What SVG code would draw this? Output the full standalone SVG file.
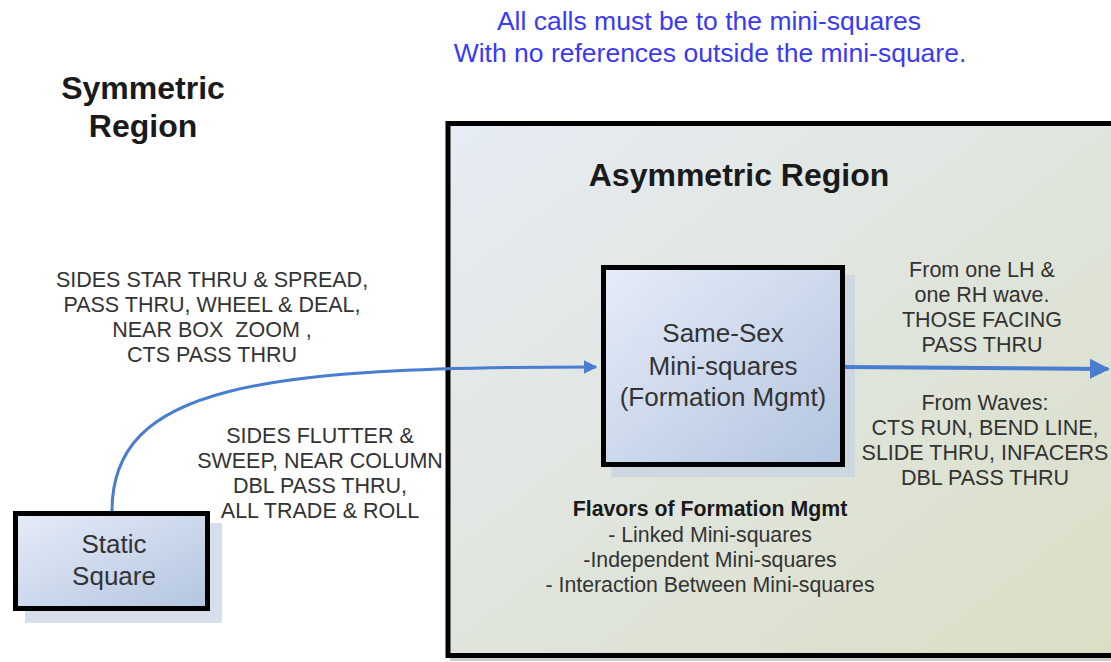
<svg xmlns="http://www.w3.org/2000/svg" width="1111" height="662" viewBox="0 0 1111 662">
<defs>
<linearGradient id="gRegion" x1="0" y1="0" x2="1" y2="1">
<stop offset="0" stop-color="#e6ecf4"/>
<stop offset="1" stop-color="#d9dec4"/>
</linearGradient>
<linearGradient id="gBox" x1="0" y1="0" x2="1" y2="1">
<stop offset="0" stop-color="#e6ecf8"/>
<stop offset="1" stop-color="#b3c5e0"/>
</linearGradient>
<marker id="ah" viewBox="0 0 10 10" refX="9" refY="5" markerWidth="4.5" markerHeight="5" markerUnits="strokeWidth" orient="auto">
<path d="M0,0 L10,5 L0,10 z" fill="#4a7cd0"/>
</marker>
<marker id="ah2" viewBox="0 0 10 10" refX="9" refY="5" markerWidth="5" markerHeight="6" markerUnits="strokeWidth" orient="auto">
<path d="M0,0 L10,5 L0,10 z" fill="#4a7cd0"/>
</marker>
<style>
text{font-family:"Liberation Sans",Arial,sans-serif;fill:#333333}
.blue{fill:#3a3af5;font-size:26.5px}
.title{font-weight:bold;font-size:32px;fill:#1a1a1a}
.lbl{font-size:21.5px}
.node{font-size:26px}
.fl{font-size:21.3px}
.box{stroke:#000;stroke-width:5}
.shadow{fill:#c6d2e4;opacity:0.7}
.conn{fill:none;stroke:#4a7cd0}
</style>
</defs>
<rect width="1111" height="662" fill="#ffffff"/>
<g id="top-note">
<text class="blue" x="709" y="30" text-anchor="middle">All calls must be to the mini-squares</text>
<text class="blue" x="710" y="62" text-anchor="middle">With no references outside the mini-square.</text>
</g>
<g id="symmetric-region">
<text class="title" x="143" y="99" text-anchor="middle">Symmetric</text>
<text class="title" x="143" y="137" text-anchor="middle">Region</text>
</g>
<g id="asymmetric-region">
<rect x="450" y="126" width="680" height="535" fill="#9a9a9a" opacity="0.5"/>
<rect class="box" x="448" y="123.5" width="680" height="532" fill="url(#gRegion)"/>
<text class="title" x="739" y="186" text-anchor="middle">Asymmetric Region</text>
</g>
<g id="mini-squares">
<rect class="shadow" x="611" y="275" width="244" height="202"/>
<rect class="box" x="603.5" y="267.5" width="239" height="197" fill="url(#gBox)"/>
<text class="node" x="723" y="342" text-anchor="middle">Same-Sex</text>
<text class="node" x="723" y="375" text-anchor="middle">Mini-squares</text>
<text class="node" x="723" y="406" text-anchor="middle">(Formation Mgmt)</text>
</g>
<g id="static-square">
<rect class="shadow" x="25" y="523" width="197" height="100"/>
<rect class="box" x="15.5" y="513.5" width="192" height="95" fill="url(#gBox)"/>
<text class="node" x="114" y="553" text-anchor="middle">Static</text>
<text class="node" x="114" y="585" text-anchor="middle">Square</text>
</g>
<g id="flavors">
<text class="fl" x="710" y="516" text-anchor="middle" font-weight="bold" style="fill:#1a1a1a">Flavors of Formation Mgmt</text>
<text class="fl" x="710" y="542" text-anchor="middle">- Linked Mini-squares</text>
<text class="fl" x="710" y="567" text-anchor="middle">-Independent Mini-squares</text>
<text class="fl" x="710" y="592" text-anchor="middle">- Interaction Between Mini-squares</text>
</g>
<g id="connectors">
<path class="conn" stroke-width="3" d="M112,511 C112,385 260,367 596,367" marker-end="url(#ah)"/>
<path class="conn" stroke-width="4" d="M845,367 L1108,369" marker-end="url(#ah2)"/>
</g>
<g id="labels">
<g id="label-left-top">
<text class="lbl" x="212" y="287" text-anchor="middle">SIDES STAR THRU &amp; SPREAD,</text>
<text class="lbl" x="212" y="312" text-anchor="middle">PASS THRU, WHEEL &amp; DEAL,</text>
<text class="lbl" x="212" y="337" text-anchor="middle" xml:space="preserve">NEAR BOX  ZOOM ,</text>
<text class="lbl" x="212" y="362" text-anchor="middle">CTS PASS THRU</text>
</g>
<g id="label-left-bottom">
<text class="lbl" x="320" y="443" text-anchor="middle">SIDES FLUTTER &amp;</text>
<text class="lbl" x="320" y="468" text-anchor="middle">SWEEP, NEAR COLUMN</text>
<text class="lbl" x="320" y="493" text-anchor="middle">DBL PASS THRU,</text>
<text class="lbl" x="320" y="518" text-anchor="middle">ALL TRADE &amp; ROLL</text>
</g>
<g id="label-right-top">
<text class="lbl" x="982" y="277" text-anchor="middle">From one LH &amp;</text>
<text class="lbl" x="982" y="302" text-anchor="middle">one RH wave.</text>
<text class="lbl" x="982" y="327" text-anchor="middle">THOSE FACING</text>
<text class="lbl" x="982" y="352" text-anchor="middle">PASS THRU</text>
</g>
<g id="label-right-bottom">
<text class="lbl" x="985" y="410" text-anchor="middle">From Waves:</text>
<text class="lbl" x="985" y="435" text-anchor="middle">CTS RUN, BEND LINE,</text>
<text class="lbl" x="985" y="460" text-anchor="middle">SLIDE THRU, INFACERS</text>
<text class="lbl" x="985" y="485" text-anchor="middle">DBL PASS THRU</text>
</g>
</g>
</svg>
